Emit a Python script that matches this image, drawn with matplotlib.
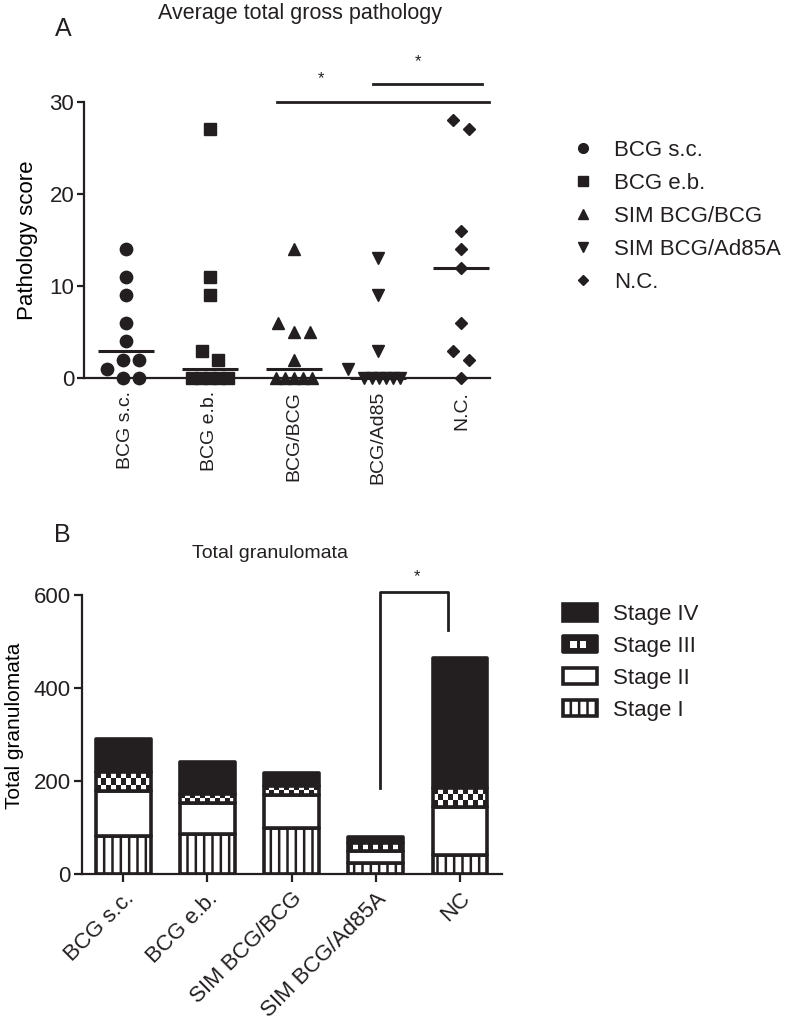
import numpy as np
import matplotlib
matplotlib.use('Agg')
import matplotlib.pyplot as plt
from matplotlib.colors import ListedColormap
from matplotlib.patches import Patch, Rectangle
from matplotlib.lines import Line2D
from matplotlib.legend_handler import HandlerBase

# ---------------- data ----------------
groups_A = ['BCG s.c.', 'BCG e.b.', 'BCG/BCG', 'BCG/Ad85', 'N.C.']
legend_A = ['BCG s.c.', 'BCG e.b.', 'SIM BCG/BCG', 'SIM BCG/Ad85A', 'N.C.']
bcg_sc = [14, 11, 9, 6, 4, 2, 2, 1, 0, 0]
bcg_eb = [27, 11, 9, 3, 2, 0, 0, 0, 0, 0]
sim_bcg_bcg = [14, 6, 5, 5, 2, 0, 0, 0, 0, 0]
sim_bcg_ad85a = [13, 9, 3, 1, 0, 0, 0, 0, 0, 0]
nc = [28, 27, 16, 14, 12, 6, 3, 2, 0]
yticks_A = [0, 10, 20, 30]

groups_B = ['BCG s.c.', 'BCG e.b.', 'SIM BCG/BCG', 'SIM BCG/Ad85A', 'NC']
stage_I = [82, 86, 99, 25, 41]
stage_II = [98, 67, 71, 25, 103]
stage_III = [39, 20, 19, 17, 41]
stage_IV = [71, 68, 28, 14, 280]
stage_labels = ['Stage IV', 'Stage III', 'Stage II', 'Stage I']
yticks_B = [0, 200, 400, 600]

# ---------------- style ----------------
DARK = '#231f20'
plt.rcParams['font.family'] = ['Liberation Sans', 'DejaVu Sans']
plt.rcParams['text.color'] = DARK
plt.rcParams['axes.edgecolor'] = DARK
plt.rcParams['xtick.color'] = DARK
plt.rcParams['ytick.color'] = DARK
plt.rcParams['hatch.linewidth'] = 1.8
plt.rcParams['hatch.color'] = DARK

W, H = 788, 1023
fig = plt.figure(figsize=(W / 100, H / 100), dpi=100)


def fbox(x0, x1, ytop, ybot):
    return [x0 / W, 1 - ybot / H, (x1 - x0) / W, (ybot - ytop) / H]


def swarm(vals, dx, dy, wmax):
    vals = np.asarray(vals, float)
    xs = np.zeros(len(vals))
    placed = []
    for v in np.unique(vals):
        idx = np.where(vals == v)[0]
        n = len(idx)
        s = dx if n == 1 else min(dx, wmax / (n - 1))
        offs = (np.arange(n) - (n - 1) / 2) * s
        ivs = []
        for xj, vj in placed:
            if abs(vj - v) < dy:
                for o in offs:
                    ivs.append((xj - o - dx, xj - o + dx))
        cands = [0.0] + [e for iv in ivs for e in iv]
        valid = [c for c in cands
                 if all(not (a + 1e-9 < c < b - 1e-9) for a, b in ivs)]
        c = min(valid, key=lambda c: (abs(c), c))
        for i, o in zip(idx, offs):
            xs[i] = c + o
            placed.append((c + o, v))
    # center connected clusters
    n = len(vals)
    parent = list(range(n))

    def find(i):
        while parent[i] != i:
            parent[i] = parent[parent[i]]
            i = parent[i]
        return i
    for i in range(n):
        for j in range(i + 1, n):
            if abs(vals[i] - vals[j]) < dy and abs(xs[i] - xs[j]) <= dx + 1e-6:
                parent[find(i)] = find(j)
    roots = {}
    for i in range(n):
        roots.setdefault(find(i), []).append(i)
    for comp in roots.values():
        if len(comp) > 1:
            xs[comp] -= xs[comp].mean()
    return xs


# ================= Panel A =================
axA = fig.add_axes(fbox(84, 490, 101.7, 378.3))
axA.set_xlim(-0.5, 4.34)
axA.set_ylim(0, 30)
seriesA = [bcg_sc, bcg_eb, sim_bcg_bcg, sim_bcg_ad85a, nc]
markers = ['o', 's', '^', 'v', 'D']
msizes = [8.9, 8.1, 8.4, 8.4, 6.0]
for i, (vals, m, ms) in enumerate(zip(seriesA, markers, msizes)):
    xo = swarm(vals, 0.191, 1.3, 0.43)
    axA.plot(i + xo, vals, ls='none', marker=m, ms=ms, color=DARK,
             mec=DARK, clip_on=False, zorder=4)
    med = np.median(vals)
    axA.hlines(med, i - 0.334, i + 0.334, color=DARK, lw=2.2, zorder=3,
               clip_on=False)

for sp in ['top', 'right']:
    axA.spines[sp].set_visible(False)
for sp in ['left', 'bottom']:
    axA.spines[sp].set_linewidth(1.6)
axA.set_yticks(yticks_A)
axA.set_xticks(range(len(groups_A)))
axA.set_xticklabels(groups_A, rotation=90, fontsize=14)
axA.tick_params(axis='x', length=0, pad=9)
axA.tick_params(axis='y', length=5, width=1.6, labelsize=16, pad=2)
axA.set_ylabel('Pathology score', fontsize=16)
axA.yaxis.set_label_coords(-0.114, 0.5)

# significance annotations (A)
axA.plot([1.80, 4.33], [30.0, 30.0], color=DARK, lw=2.0, clip_on=False)
axA.plot([2.94, 4.24], [31.9, 31.9], color=DARK, lw=2.0, clip_on=False)
axA.text(2.33, 32.5, '*', ha='center', va='center', fontsize=12)
axA.text(3.48, 34.3, '*', ha='center', va='center', fontsize=12)

handlesA = [Line2D([], [], ls='none', marker=m, ms=7 if m != 'D' else 5,
                   color=DARK) for m in markers]
axA.legend(handlesA, legend_A, loc='upper left',
           bbox_to_anchor=(572 / W, 1 - 140 / H),
           bbox_transform=fig.transFigure, frameon=False, fontsize=16,
           handlelength=1.0, handletextpad=0.89, labelspacing=0.54,
           borderpad=0, borderaxespad=0)

fig.text(300 / W, 1 - 14 / H, 'Average total gross pathology',
         ha='center', va='center', fontsize=15.5)
fig.text(63 / W, 1 - 29 / H, 'A', ha='center', va='center', fontsize=18)

# ================= Panel B =================
axB = fig.add_axes(fbox(82, 502, 595, 874.3))
axB.set_xlim(-0.49, 4.5)
axB.set_ylim(0, 600)
xB = np.arange(len(groups_B))
bw = 0.65
lw_bar = 2.6
kw = dict(width=bw, edgecolor=DARK, linewidth=lw_bar, joinstyle='round')
b1 = np.array(stage_I, float)
b2 = b1 + np.array(stage_II)
b3 = b2 + np.array(stage_III)
axB.bar(xB, stage_I, facecolor='white', hatch='||', zorder=2, **kw)
axB.bar(xB, stage_II, bottom=b1, facecolor='white', zorder=2, **kw)
bars3 = axB.bar(xB, stage_III, bottom=b2, facecolor='none', zorder=3, **kw)
axB.bar(xB, stage_IV, bottom=b3, facecolor=DARK, zorder=2, **kw)

# checkerboard fill for stage III
fig.canvas.draw()
px_x = axB.transData.transform((1, 0))[0] - axB.transData.transform((0, 0))[0]
px_y = axB.transData.transform((0, 1))[1] - axB.transData.transform((0, 0))[1]
cmap = ListedColormap([DARK, 'white'])
for p in bars3.patches:
    x0, y0 = p.get_x(), p.get_y()
    w, h = p.get_width(), p.get_height()
    nc_ = max(2, int(round(w * px_x / 5.0)))
    nr_ = max(1, int(round(h * px_y / 5.5)))
    ii, jj = np.indices((nr_, nc_))
    chk = ((ii + jj) % 2).astype(float)
    im = axB.imshow(chk, cmap=cmap, vmin=0, vmax=1, extent=(x0, x0 + w, y0, y0 + h),
                    aspect='auto', interpolation='nearest', zorder=2.5)
    im.set_clip_path(p)
axB.set_xlim(-0.49, 4.5)
axB.set_ylim(0, 600)

for sp in ['top', 'right']:
    axB.spines[sp].set_visible(False)
for sp in ['left', 'bottom']:
    axB.spines[sp].set_linewidth(1.6)
axB.set_yticks(yticks_B)
axB.set_xticks(xB)
axB.set_xticklabels(groups_B, rotation=45, ha='right', va='top',
                    rotation_mode='anchor', fontsize=16)
axB.tick_params(axis='x', length=6, width=1.6, pad=4)
axB.tick_params(axis='y', length=6, width=1.6, labelsize=16, pad=2)
axB.set_ylabel('Total granulomata', fontsize=15)
axB.yaxis.set_label_coords(-0.138, 0.53)

# significance bracket (B)
axB.plot([3.05, 3.05, 3.86, 3.86], [186, 607, 607, 524], color=DARK, lw=2.0,
         clip_on=False, zorder=5)
axB.text(3.49, 640, '*', ha='center', va='center', fontsize=12)


class CheckerHandler(HandlerBase):
    def create_artists(self, legend, orig_handle, xdescent, ydescent,
                       width, height, fontsize, trans):
        x0, y0 = -xdescent, -ydescent
        arts = [Rectangle((x0, y0), width, height, facecolor=DARK,
                          edgecolor=DARK, lw=lw_bar, joinstyle='round',
                          transform=trans)]
        cw = width / 6.0
        for k in (1.3, 3.0):
            arts.append(Rectangle((x0 + k * cw, y0 + height * 0.28), cw * 1.1,
                                  height * 0.44, facecolor='white',
                                  edgecolor='none', transform=trans))
        return arts


class CheckerKey:
    pass


h4 = Patch(facecolor=DARK, edgecolor=DARK, lw=lw_bar, joinstyle='round')
h3 = CheckerKey()
h2 = Patch(facecolor='white', edgecolor=DARK, lw=lw_bar, joinstyle='round')
h1 = Patch(facecolor='white', edgecolor=DARK, lw=lw_bar, hatch='||',
           joinstyle='round')
axB.legend([h4, h3, h2, h1], stage_labels, loc='upper left',
           bbox_to_anchor=(563 / W, 1 - 604 / H),
           bbox_transform=fig.transFigure, frameon=False, fontsize=16,
           handlelength=1.53, handleheight=0.77, handletextpad=0.72,
           labelspacing=0.49, borderpad=0, borderaxespad=0,
           handler_map={CheckerKey: CheckerHandler()})

fig.text(270 / W, 1 - 553 / H, 'Total granulomata', ha='center',
         va='center', fontsize=14)
fig.text(62 / W, 1 - 535 / H, 'B', ha='center', va='center', fontsize=18)

fig.savefig('out.png', dpi=100)
